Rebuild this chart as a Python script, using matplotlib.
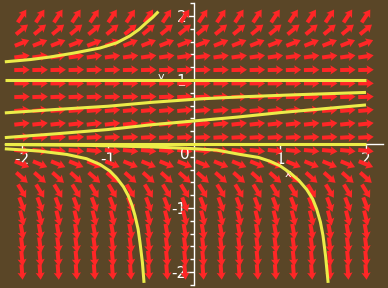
import numpy as np
import matplotlib
matplotlib.use("Agg")
import matplotlib.pyplot as plt

# =========================
# DATA
# =========================
# slope dy/dx of the field arrows, one value per row, bottom row to top row
row_slopes = [-18, -14, -10.5, -7.7, -5.4, -3.6, -2.2, -1.2, -0.55, -0.13,
              0.08, 0.15, 0.12, 0.05, 0.0, 0.03, 0.19, 0.53, 1.1, 2.0]

# solution curves
curve_a_x = [-2.2, -1.9, -1.67, -1.4, -1.093, -0.9, -0.744, -0.64, -0.55, -0.48, -0.414]
curve_a_y = [1.284, 1.32, 1.36, 1.42, 1.50, 1.58, 1.69, 1.79, 1.90, 1.98, 2.07]

curve_b_x = [-2.2, 2.0]
curve_b_y = [1.0, 1.0]

curve_c_x = [-2.2, -1.6, -1.0, -0.5, 0.07, 0.6, 1.2, 2.0]
curve_c_y = [0.486, 0.54, 0.59, 0.65, 0.705, 0.74, 0.77, 0.806]

curve_d_x = [-2.2, -1.6, -1.0, -0.5, 0.0, 0.5, 1.0, 1.5, 2.0]
curve_d_y = [0.10, 0.16, 0.226, 0.30, 0.36, 0.42, 0.49, 0.55, 0.61]

curve_e_x = [-2.2, 2.0]
curve_e_y = [0.0, 0.0]

curve_f_x = [-2.2, -1.8, -1.48, -1.25, -1.093, -0.98, -0.90, -0.82, -0.764,
             -0.72, -0.686, -0.65, -0.628, -0.60, -0.581]
curve_f_y = [-0.075, -0.11, -0.163, -0.23, -0.32, -0.42, -0.53, -0.67, -0.81,
             -0.96, -1.12, -1.33, -1.54, -1.85, -2.17]

curve_g_x = [-2.2, -1.2, -0.5, -0.05, 0.264, 0.535, 0.75, 0.884, 1.0, 1.116,
             1.22, 1.31, 1.38, 1.427, 1.47, 1.50, 1.53, 1.56]
curve_g_y = [-0.008, -0.022, -0.045, -0.07, -0.095, -0.163, -0.21, -0.27, -0.34, -0.45,
             -0.57, -0.71, -0.86, -1.02, -1.22, -1.43, -1.75, -2.17]

curves = [
    (curve_a_x, curve_a_y),
    (curve_b_x, curve_b_y),
    (curve_c_x, curve_c_y),
    (curve_d_x, curve_d_y),
    (curve_e_x, curve_e_y),
    (curve_f_x, curve_f_y),
    (curve_g_x, curve_g_y),
]

x_ticks = [-2, -1, 1, 2]
x_tick_labels = ["-2", "-1", "1", "2"]
y_ticks = [-2, -1, 1, 2]
y_tick_labels = ["-2", "-1", "1", "2"]

# =========================
# FIGURE
# =========================
bg = "#5a4627"
fig = plt.figure(figsize=(3.88, 2.88), dpi=100)
fig.patch.set_facecolor(bg)
ax = fig.add_axes([0, 0, 1, 1])
ax.set_facecolor(bg)
ax.set_xlim(-2.256, 2.256)
ax.set_ylim(-2.25, 2.25)

# direction field
gx = np.linspace(-2, 2, 20)
gy = np.linspace(-2, 2, 20)
X, Y = np.meshgrid(gx, gy)
S = np.repeat(np.array(row_slopes, dtype=float)[:, None], len(gx), axis=1)
norm = np.sqrt(1 + S ** 2)
U = 1 / norm
V = S / norm
ax.quiver(X, Y, U, V, angles="xy", scale_units="dots", scale=1 / 15.5,
          pivot="middle", units="dots", width=4.0, headwidth=2.3,
          headlength=1.8, headaxislength=1.6, color="#ff2626", zorder=2)

# axes through the origin
for side in ["top", "right"]:
    ax.spines[side].set_visible(False)
ax.spines["left"].set_position(("data", 0))
ax.spines["bottom"].set_position(("data", 0))
ax.spines["left"].set_bounds(-2.2, 2.2)
ax.spines["bottom"].set_bounds(-2.2, 2.2)
for side in ["left", "bottom"]:
    ax.spines[side].set_color("white")
    ax.spines[side].set_linewidth(1.0)
    ax.spines[side].set_zorder(3)

ax.set_xticks(x_ticks)
ax.set_xticklabels(x_tick_labels)
ax.set_yticks(y_ticks)
ax.set_yticklabels(y_tick_labels)
ax.set_yticks(np.arange(-2.2, 2.21, 0.2), minor=True)
ax.tick_params(which="major", colors="white", length=5, width=1, pad=0.5,
               labelsize=11, direction="out")
ax.tick_params(which="minor", colors="white", length=3, width=1, direction="out")
for lab in ax.get_xticklabels() + ax.get_yticklabels():
    lab.set_fontfamily("DejaVu Sans")

ax.text(-0.05, -0.04, "0", color="white", fontsize=11, ha="right", va="top")
ax.text(1.09, -0.47, "x", color="white", fontsize=8, ha="center", va="center")
ax.text(-0.38, 1.05, "y", color="white", fontsize=8, ha="center", va="center")

# solution curves
for cx, cy in curves:
    ax.plot(cx, cy, color="#ecec48", lw=2.2, zorder=4, solid_capstyle="butt")

fig.savefig("out.png", dpi=100, facecolor=bg)
